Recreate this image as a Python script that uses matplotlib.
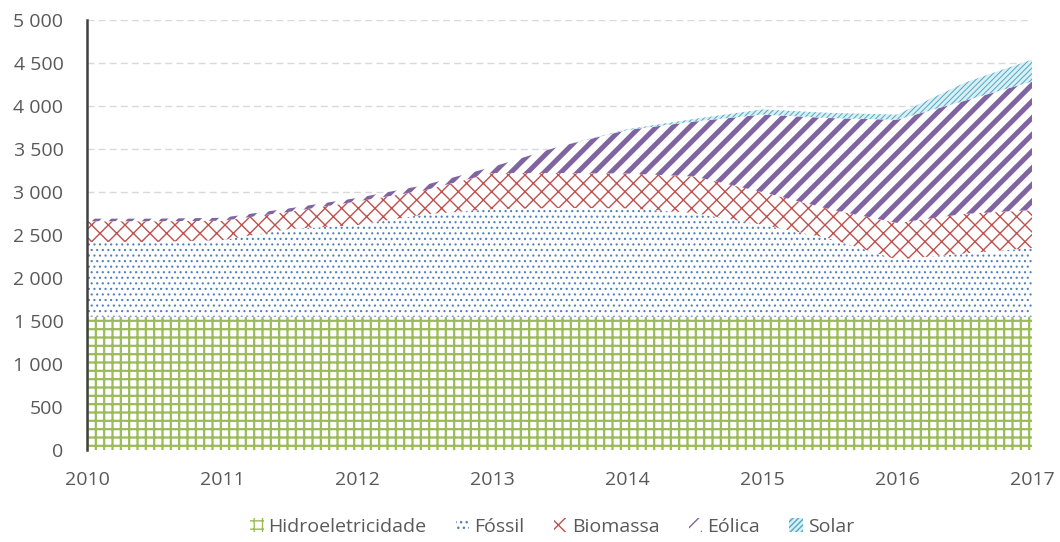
import matplotlib
matplotlib.use("Agg")
import matplotlib.pyplot as plt
import numpy as np
from matplotlib.ticker import FuncFormatter

# half-year points
anos = [2010, 2010.5, 2011, 2011.5, 2012, 2012.5, 2013, 2013.5,
        2014, 2014.5, 2015, 2015.5, 2016, 2016.5, 2017]
hidro = [1550] * 15
fossil = [870, 870, 890, 1020, 1065, 1190, 1250, 1265, 1260, 1205, 1070, 910, 665, 735, 800]
biomassa = [240, 240, 225, 200, 275, 280, 420, 405, 405, 425, 380, 340, 425, 460, 440]
eolica = [30, 30, 35, 40, 40, 60, 70, 310, 505, 640, 900, 1060, 1200, 1315, 1495]
solar = [0, 0, 0, 0, 0, 0, 0, 0, 10, 30, 60, 60, 60, 210, 255]

nomes = ['Hidroeletricidade', 'Fóssil', 'Biomassa', 'Eólica', 'Solar']
series = [hidro, fossil, biomassa, eolica, solar]

# face, hatch colour, hatch, hatch linewidth
estilos = [
    ('white', '#9BBB59', '++', 1.6),
    ('white', '#4F81BD', '...', 0.8),
    ('white', '#C0504D', 'xx', 1.0),
    ('white', '#8064A2', '//', 3.6),
    ('#DAEEF3', '#4BACC6', '//////', 0.7),
]

plt.rcParams['font.family'] = ['Open Sans', 'DejaVu Sans']

fig = plt.figure(figsize=(10.6, 5.42), dpi=100)
ax = fig.add_axes([87/1060, 1 - 450/542, (1032-87)/1060, (450-20)/542])

x = np.array(anos)
base = np.zeros(len(anos))
handles = []
for nome, s, (fc, hc, h, lw) in zip(nomes, series, estilos):
    topo = base + np.array(s)
    with plt.rc_context({'hatch.linewidth': lw}):
        p = ax.fill_between(x, base, topo, facecolor=fc, edgecolor=hc,
                            hatch=h, linewidth=0, label=nome, zorder=2)
        if hasattr(p, 'set_hatch_linewidth'):
            p.set_hatch_linewidth(lw)
    handles.append(p)
    base = topo

ax.set_xlim(2010, 2017)
ax.set_ylim(0, 5000)
ax.set_xticks(range(2010, 2018))
ax.set_yticks(range(0, 5001, 500))
ax.yaxis.set_major_formatter(FuncFormatter(lambda v, pos: f'{v:,.0f}'.replace(',', ' ')))

ax.grid(axis='y', color='#D9D9D9', linestyle=(0, (5, 3)), linewidth=1.0, zorder=0)
ax.set_axisbelow(True)
for sp in ['top', 'right', 'bottom']:
    ax.spines[sp].set_visible(False)
ax.spines['left'].set_color('#404040')
ax.spines['left'].set_linewidth(1.8)
ax.spines['left'].set_zorder(3)

ax.tick_params(axis='both', length=0, labelsize=14, colors='#595959')
ax.tick_params(axis='x', pad=15)
ax.tick_params(axis='y', pad=17)

fig.legend(handles=handles, labels=nomes, loc='center',
           bbox_to_anchor=(552/1060, 1 - 527/542), ncol=5, frameon=False,
           fontsize=14, labelcolor='#595959', handlelength=0.7, handleheight=0.7,
           handletextpad=0.25, columnspacing=1.5)

fig.savefig('out.png', dpi=100)
